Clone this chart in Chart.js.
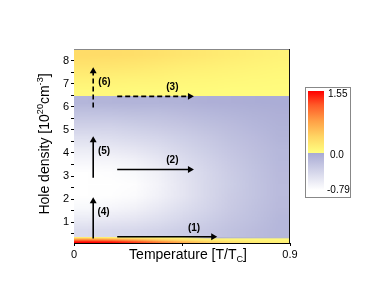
<!DOCTYPE html>
<html>
<head>
<meta charset="utf-8">
<script src="https://cdn.jsdelivr.net/npm/chart.js@4.4.1/dist/chart.umd.min.js"></script>
<style>
  html, body { margin: 0; padding: 0; background: #fff; }
  #wrap { width: 371px; height: 295px; }
</style>
</head>
<body>
<div id="wrap"><canvas id="heatChart" width="371" height="295"></canvas></div>
<script>
// ---- data ----
// cell centres along temperature (cells are 0.1 wide)
var tempCols = [0.05, 0.15, 0.25, 0.35, 0.45, 0.55, 0.65, 0.75, 0.85];

// bottom strip (hole density 0.1 - 0.38)
var bottomRows = [0.135, 0.205, 0.275, 0.345];
var bottomVals = [
    [1.55, 1.50, 1.30, 1.00, 0.70, 0.45, 0.30, 0.20, 0.15],
    [1.20, 1.10, 0.90, 0.60, 0.40, 0.25, 0.18, 0.12, 0.10],
    [0.70, 0.60, 0.45, 0.30, 0.20, 0.12, 0.08, 0.06, 0.05],
    [0.15, 0.12, 0.08, 0.05, 0.03, -0.05, -0.08, -0.08, -0.08]
];

// middle region (hole density 0.38 - 6.45)
var midRows = [0.63, 1.14, 1.65, 2.15, 2.66, 3.16, 3.67, 4.18, 4.68, 5.19, 5.69, 6.20];
var midVals = [
    [-0.46, -0.44, -0.42, -0.38, -0.33, -0.28, -0.22, -0.17, -0.12],
    [-0.60, -0.58, -0.55, -0.49, -0.42, -0.34, -0.26, -0.20, -0.13],
    [-0.73, -0.71, -0.67, -0.59, -0.49, -0.40, -0.30, -0.22, -0.15],
    [-0.79, -0.78, -0.75, -0.66, -0.55, -0.43, -0.32, -0.24, -0.16],
    [-0.79, -0.79, -0.77, -0.68, -0.55, -0.43, -0.33, -0.24, -0.16],
    [-0.79, -0.77, -0.73, -0.65, -0.53, -0.42, -0.32, -0.23, -0.15],
    [-0.71, -0.70, -0.66, -0.58, -0.47, -0.38, -0.29, -0.21, -0.14],
    [-0.61, -0.59, -0.55, -0.49, -0.41, -0.33, -0.25, -0.19, -0.13],
    [-0.49, -0.47, -0.44, -0.40, -0.34, -0.28, -0.21, -0.16, -0.10],
    [-0.36, -0.36, -0.33, -0.30, -0.26, -0.21, -0.17, -0.12, -0.08],
    [-0.24, -0.23, -0.21, -0.20, -0.17, -0.14, -0.11, -0.08, -0.06],
    [-0.11, -0.10, -0.09, -0.09, -0.08, -0.06, -0.05, -0.04, -0.03]
];

// top region (hole density 6.45 - 8.5)
var topRows = [6.71, 7.22, 7.73, 8.24];
var topVals = [
    [0.06, 0.06, 0.05, 0.05, 0.04, 0.04, 0.03, 0.03, 0.03],
    [0.14, 0.13, 0.12, 0.11, 0.09, 0.08, 0.07, 0.06, 0.05],
    [0.24, 0.23, 0.21, 0.19, 0.16, 0.14, 0.12, 0.10, 0.08],
    [0.34, 0.33, 0.31, 0.28, 0.24, 0.21, 0.18, 0.15, 0.12]
];

// colour scale
var negStops = [-0.79, 0];
var negColors = [[255, 255, 255], [168, 170, 212]];
var posStops = [0, 0.4, 0.8, 1.2, 1.55];
var posColors = [[255, 255, 128], [255, 214, 100], [255, 160, 70], [255, 90, 40], [255, 0, 0]];
var cbarLabels = ['1.55', '0.0', '-0.79'];

// arrows: start, end (arrow-head centre), dashed, label and label position
var arrowStart = [[0.18, 0.37], [0.18, 3.28], [0.18, 6.45], [0.08, 0.30], [0.08, 2.93], [0.08, 5.97]];
var arrowEnd = [[0.58, 0.37], [0.483, 3.28], [0.483, 6.45], [0.08, 1.91], [0.08, 4.55], [0.08, 7.54]];
var arrowDashed = [false, false, true, false, false, true];
var arrowLabels = ['(1)', '(2)', '(3)', '(4)', '(5)', '(6)'];
var labelPos = [[0.50, 0.76], [0.41, 3.67], [0.41, 6.83], [0.123, 1.43], [0.125, 4.06], [0.127, 7.05]];

var yTickValues = [0.5, 1, 1.5, 2, 2.5, 3, 3.5, 4, 4.5, 5, 5.5, 6, 6.5, 7, 7.5, 8];
var xTickValues = [0, 0.45, 0.9];
var xTickLabels = ['0', '', '0.9'];

var FONT = "'Liberation Sans', Arial, sans-serif";

function lerpColor(stops, colors, v) {
    if (v <= stops[0]) return colors[0];
    for (var i = 1; i < stops.length; i++) {
        if (v <= stops[i]) {
            var t = (v - stops[i - 1]) / (stops[i] - stops[i - 1]);
            var a = colors[i - 1], b = colors[i];
            return [a[0] + (b[0] - a[0]) * t, a[1] + (b[1] - a[1]) * t, a[2] + (b[2] - a[2]) * t];
        }
    }
    return colors[colors.length - 1];
}

function valueColor(v) {
    return v < 0 ? lerpColor(negStops, negColors, v) : lerpColor(posStops, posColors, v);
}

function rgb(c) {
    return 'rgb(' + Math.round(c[0]) + ',' + Math.round(c[1]) + ',' + Math.round(c[2]) + ')';
}

// paints one band of cells, smoothed, into the area given by the scales
function drawBand(chart, rows, vals) {
    var ctx = chart.ctx, xs = chart.scales.x, ys = chart.scales.y;
    var nr = rows.length, nc = tempCols.length;
    var dy = (rows[nr - 1] - rows[0]) / (nr - 1);
    var dx = tempCols[1] - tempCols[0];
    var off = document.createElement('canvas');
    off.width = nc;
    off.height = nr;
    var octx = off.getContext('2d');
    var img = octx.createImageData(nc, nr);
    for (var r = 0; r < nr; r++) {
        for (var c = 0; c < nc; c++) {
            var col = valueColor(vals[r][c]);
            var k = ((nr - 1 - r) * nc + c) * 4;
            img.data[k] = col[0];
            img.data[k + 1] = col[1];
            img.data[k + 2] = col[2];
            img.data[k + 3] = 255;
        }
    }
    octx.putImageData(img, 0, 0);
    var left = xs.getPixelForValue(tempCols[0] - dx / 2);
    var right = xs.getPixelForValue(tempCols[nc - 1] + dx / 2);
    var top = ys.getPixelForValue(rows[nr - 1] + dy / 2);
    var bottom = ys.getPixelForValue(rows[0] - dy / 2);
    ctx.imageSmoothingEnabled = true;
    ctx.drawImage(off, left, top, right - left, bottom - top);
}

// text with super/subscript pieces
function richWidth(ctx, parts, size) {
    var w = 0;
    parts.forEach(function (p) {
        ctx.font = (p.sup || p.sub ? size * 0.65 : size) + 'px ' + FONT;
        w += ctx.measureText(p.t).width;
    });
    return w;
}

function drawRich(ctx, parts, x, y, size) {
    var w = richWidth(ctx, parts, size);
    var cx = x - w / 2;
    ctx.textAlign = 'left';
    ctx.textBaseline = 'alphabetic';
    parts.forEach(function (p) {
        var s = p.sup || p.sub ? size * 0.65 : size;
        ctx.font = s + 'px ' + FONT;
        var dy = p.sup ? -size * 0.42 : (p.sub ? size * 0.2 : 0);
        ctx.fillText(p.t, cx, y + dy);
        cx += ctx.measureText(p.t).width;
    });
}

var heatmapPlugin = {
    id: 'heatmap',
    beforeDatasetsDraw: function (chart) {
        var ctx = chart.ctx, a = chart.chartArea;
        ctx.save();
        ctx.beginPath();
        ctx.rect(a.left, a.top, a.right - a.left, a.bottom - a.top);
        ctx.clip();
        drawBand(chart, midRows, midVals);
        drawBand(chart, topRows, topVals);
        drawBand(chart, bottomRows, bottomVals);
        ctx.restore();
    },
    afterDraw: function (chart) {
        var ctx = chart.ctx, a = chart.chartArea;
        var xs = chart.scales.x, ys = chart.scales.y;
        ctx.save();

        // frame top and right
        ctx.lineWidth = 1;
        ctx.strokeStyle = '#888';
        ctx.beginPath();
        ctx.moveTo(a.left, a.top + 0.5);
        ctx.lineTo(a.right, a.top + 0.5);
        ctx.stroke();
        ctx.strokeStyle = '#111';
        ctx.beginPath();
        ctx.moveTo(a.right - 0.5, a.top);
        ctx.lineTo(a.right - 0.5, a.bottom);
        ctx.stroke();

        // arrow labels
        ctx.fillStyle = '#000';
        ctx.font = 'bold 10px ' + FONT;
        ctx.textAlign = 'center';
        ctx.textBaseline = 'middle';
        arrowLabels.forEach(function (t, i) {
            ctx.fillText(t, xs.getPixelForValue(labelPos[i][0]), ys.getPixelForValue(labelPos[i][1]));
        });

        // axis titles
        drawRich(ctx, [{ t: 'Temperature [T/T' }, { t: 'C', sub: true }, { t: ']' }], 188, 259, 14);
        ctx.save();
        ctx.translate(49, 144);
        ctx.rotate(-Math.PI / 2);
        drawRich(ctx, [{ t: 'Hole density [10' }, { t: '20', sup: true }, { t: 'cm' }, { t: '-3', sup: true }, { t: ']' }], 0, 0, 14);
        ctx.restore();

        // colour bar
        var bx = 308, bw = 16, bTop = 91, bZero = 153, bBot = 190;
        var gp = ctx.createLinearGradient(0, bTop, 0, bZero);
        posStops.forEach(function (s, i) {
            gp.addColorStop(1 - s / posStops[posStops.length - 1], rgb(posColors[i]));
        });
        ctx.fillStyle = gp;
        ctx.fillRect(bx, bTop, bw, bZero - bTop);
        var gn = ctx.createLinearGradient(0, bZero, 0, bBot);
        negStops.forEach(function (s, i) {
            gn.addColorStop(s / negStops[0], rgb(negColors[i]));
        });
        ctx.fillStyle = gn;
        ctx.fillRect(bx, bZero, bw, bBot - bZero);
        ctx.strokeStyle = '#888';
        ctx.strokeRect(305.5, 87.5, 45, 110);
        ctx.fillStyle = '#000';
        ctx.font = '10px ' + FONT;
        ctx.textAlign = 'left';
        ctx.textBaseline = 'middle';
        ctx.fillText(cbarLabels[0], 328, bTop + 3);
        ctx.fillText(cbarLabels[1], 330, bZero + 2);
        ctx.fillText(cbarLabels[2], 327, bBot);
        ctx.restore();
    }
};

var arrowSets = arrowStart.map(function (s, i) {
    var e = arrowEnd[i];
    var horizontal = s[1] === e[1];
    return {
        data: [{ x: s[0], y: s[1] }, { x: e[0], y: e[1] }],
        showLine: true,
        borderColor: '#000',
        backgroundColor: '#000',
        borderWidth: 1.6,
        borderDash: arrowDashed[i] ? [5, 3] : [],
        pointStyle: 'triangle',
        pointRadius: [0, 4],
        pointBorderWidth: 0,
        pointBackgroundColor: '#000',
        pointRotation: horizontal ? 90 : 0
    };
});

var ctx = document.getElementById('heatChart').getContext('2d');
new Chart(ctx, {
    type: 'scatter',
    data: { datasets: arrowSets },
    options: {
        responsive: false,
        animation: false,
        events: [],
        layout: { padding: { top: 49, right: 81, left: 0, bottom: 0 } },
        plugins: {
            legend: { display: false },
            tooltip: { enabled: false }
        },
        scales: {
            x: {
                type: 'linear',
                min: 0,
                max: 0.9,
                afterFit: function (s) { s.height = 52; },
                afterBuildTicks: function (s) {
                    s.ticks = xTickValues.map(function (v) { return { value: v }; });
                },
                ticks: {
                    color: '#000',
                    padding: 2,
                    autoSkip: false,
                    maxRotation: 0,
                    font: { size: 11, family: FONT },
                    callback: function (v, i) { return xTickLabels[i]; }
                },
                grid: { drawOnChartArea: false, drawTicks: true, tickLength: 3, color: '#000' },
                border: { display: true, color: '#000' }
            },
            y: {
                type: 'linear',
                min: 0.1,
                max: 8.5,
                afterFit: function (s) { s.width = 74; },
                afterBuildTicks: function (s) {
                    s.ticks = yTickValues.map(function (v) { return { value: v }; });
                },
                ticks: {
                    color: '#000',
                    padding: 2,
                    autoSkip: false,
                    font: { size: 11, family: FONT },
                    callback: function (v) {
                        return Math.abs(v - Math.round(v)) < 1e-9 ? String(Math.round(v)) : '';
                    }
                },
                grid: { drawOnChartArea: false, drawTicks: true, tickLength: 3, color: '#000' },
                border: { display: true, color: '#000' }
            }
        }
    },
    plugins: [heatmapPlugin]
});
</script>
</body>
</html>
